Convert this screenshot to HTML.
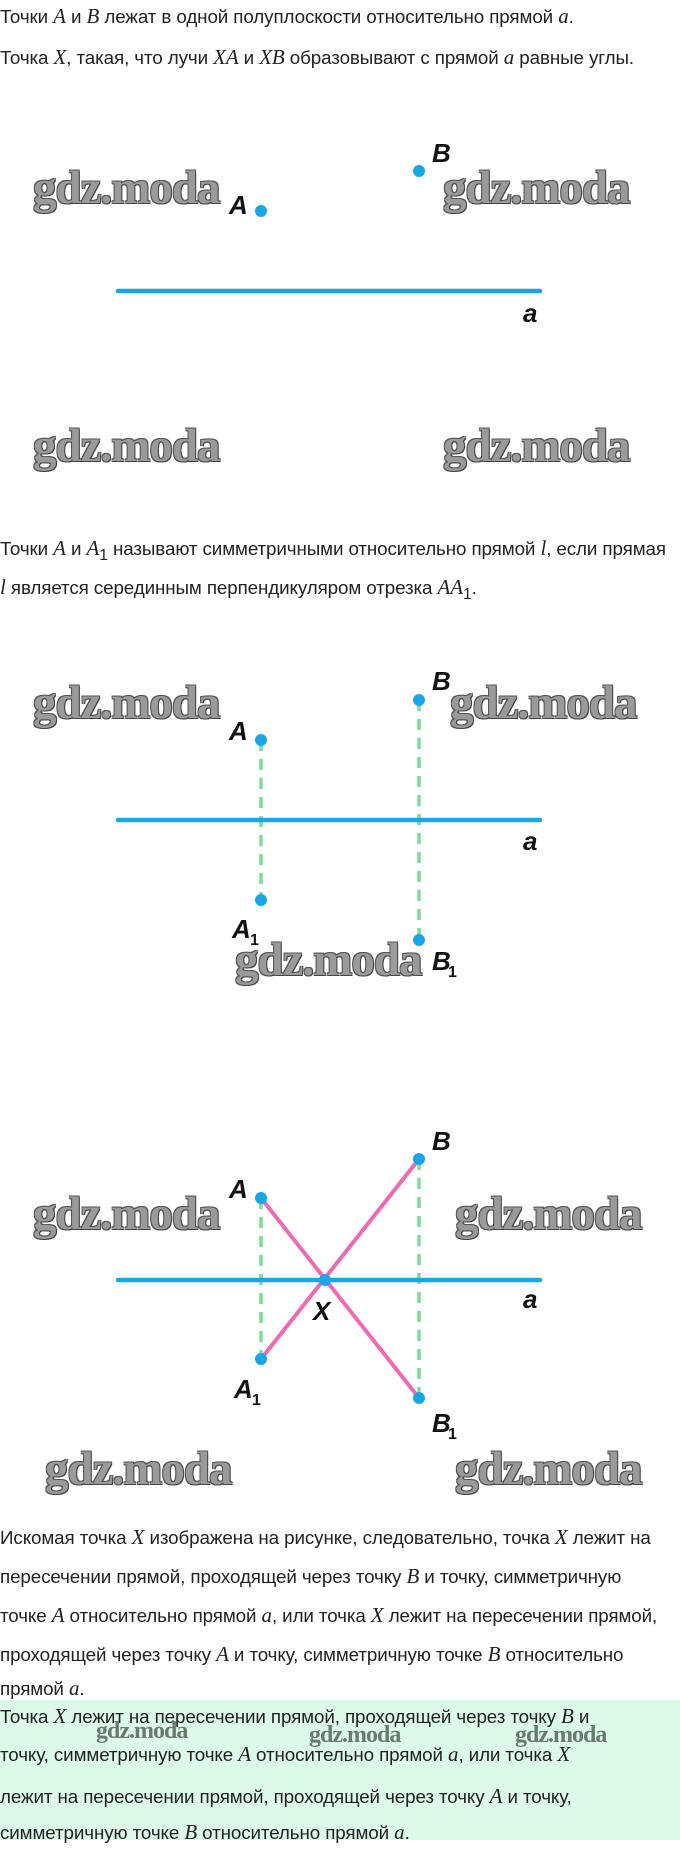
<!DOCTYPE html>
<html><head><meta charset="utf-8"><style>
body{margin:0;width:680px;height:1872px;position:relative;background:#fff;overflow:hidden;font-family:"Liberation Sans",sans-serif;color:#222}
.t{position:absolute;left:0;font-size:18.8px;white-space:nowrap;line-height:20px;letter-spacing:-0.1px}
.m{font-family:"Liberation Serif",serif;font-style:italic;font-size:21px}
.wm{position:absolute;font-family:"Liberation Serif",serif;font-weight:bold;font-size:47px;color:#9a9a9a;letter-spacing:-1px;text-shadow:1px 1px 0 #444,-1px -1px 0 #555,1px -1px 0 #555,-1px 1px 0 #555;line-height:44px}
.ws{position:absolute;font-family:"Liberation Serif",serif;font-weight:bold;font-size:24px;color:#6a7a70;letter-spacing:-1px;line-height:22px}
.green{position:absolute;left:0;top:1700px;width:680px;height:140px;background:#dcfae8}
</style></head><body>
<div class="t" style="top:6px">Точки <span class="m">A</span> и <span class="m">B</span> лежат в одной полуплоскости относительно прямой <span class="m">a</span>.</div>
<div class="t" style="top:47px">Точка <span class="m">X</span>, такая, что лучи <span class="m">XA</span> и <span class="m">XB</span> образовывают с прямой <span class="m">a</span> равные углы.</div>

<div class="t" style="top:538px">Точки <span class="m">A</span> и <span class="m">A</span><sub>1</sub> называют симметричными относительно прямой <span class="m">l</span>, если прямая</div>
<div class="t" style="top:577px"><span class="m">l</span> является серединным перпендикуляром отрезка <span class="m">AA</span><sub>1</sub>.</div>

<div class="wm" style="left:33px;top:166px">gdz.moda</div>
<div class="wm" style="left:443px;top:166px">gdz.moda</div>
<div class="wm" style="left:33px;top:424px">gdz.moda</div>
<div class="wm" style="left:443px;top:424px">gdz.moda</div>
<div class="wm" style="left:33px;top:681px">gdz.moda</div>
<div class="wm" style="left:450px;top:681px">gdz.moda</div>
<div class="wm" style="left:235px;top:938px">gdz.moda</div>
<div class="wm" style="left:33px;top:1192px">gdz.moda</div>
<div class="wm" style="left:455px;top:1192px">gdz.moda</div>
<div class="wm" style="left:45px;top:1447px">gdz.moda</div>
<div class="wm" style="left:455px;top:1447px">gdz.moda</div>

<svg style="position:absolute;left:0;top:0" width="680" height="1872">
<g font-family="Liberation Sans,sans-serif" font-style="italic" font-weight="bold" font-size="26" fill="#111">
<line x1="118" y1="291" x2="540" y2="291" stroke="#19a6e6" stroke-width="4.5" stroke-linecap="round"/>
<circle cx="261" cy="211" r="6" fill="#19a6e6"/>
<circle cx="419" cy="171" r="6" fill="#19a6e6"/>
<text x="229" y="214">A</text><text x="432" y="162">B</text><text x="523" y="322">a</text>
<line x1="261" y1="740" x2="261" y2="900" stroke="#7ddc9a" stroke-width="3.5" stroke-dasharray="11,8"/>
<line x1="419" y1="700" x2="419" y2="940" stroke="#7ddc9a" stroke-width="3.5" stroke-dasharray="11,8"/>
<line x1="118" y1="820" x2="540" y2="820" stroke="#19a6e6" stroke-width="4.5" stroke-linecap="round"/>
<circle cx="261" cy="740" r="6" fill="#19a6e6"/><circle cx="261" cy="900" r="6" fill="#19a6e6"/>
<circle cx="419" cy="700" r="6" fill="#19a6e6"/><circle cx="419" cy="940" r="6" fill="#19a6e6"/>
<text x="229" y="740">A</text><text x="432" y="690">B</text>
<text x="232" y="938">A</text><text x="250" y="945" font-size="16" font-style="normal">1</text>
<text x="432" y="970">B</text><text x="448" y="977" font-size="16" font-style="normal">1</text>
<text x="523" y="850">a</text>
<line x1="261" y1="1198" x2="261" y2="1359" stroke="#7ddc9a" stroke-width="3.5" stroke-dasharray="11,8"/>
<line x1="419" y1="1159" x2="419" y2="1398" stroke="#7ddc9a" stroke-width="3.5" stroke-dasharray="11,8"/>
<line x1="118" y1="1280" x2="540" y2="1280" stroke="#19a6e6" stroke-width="4.5" stroke-linecap="round"/>
<line x1="261" y1="1198" x2="419" y2="1398" stroke="#ef6bb0" stroke-width="4"/>
<line x1="261" y1="1359" x2="419" y2="1159" stroke="#ef6bb0" stroke-width="4"/>
<circle cx="261" cy="1198" r="6" fill="#19a6e6"/><circle cx="261" cy="1359" r="6" fill="#19a6e6"/>
<circle cx="419" cy="1159" r="6" fill="#19a6e6"/><circle cx="419" cy="1398" r="6" fill="#19a6e6"/>
<circle cx="325" cy="1280" r="6" fill="#19a6e6"/>
<text x="229" y="1198">A</text><text x="432" y="1150">B</text>
<text x="234" y="1398">A</text><text x="252" y="1405" font-size="16" font-style="normal">1</text>
<text x="432" y="1432">B</text><text x="448" y="1439" font-size="16" font-style="normal">1</text>
<text x="313" y="1320">X</text><text x="523" y="1308">a</text>
</g></svg>

<div class="t" style="top:1527px">Искомая точка <span class="m">X</span> изображена на рисунке, следовательно, точка <span class="m">X</span> лежит на</div>
<div class="t" style="top:1566px">пересечении прямой, проходящей через точку <span class="m">B</span> и точку, симметричную</div>
<div class="t" style="top:1605px">точке <span class="m">A</span> относительно прямой <span class="m">a</span>, или точка <span class="m">X</span> лежит на пересечении прямой,</div>
<div class="t" style="top:1644px">проходящей через точку <span class="m">A</span> и точку, симметричную точке <span class="m">B</span> относительно</div>
<div class="t" style="top:1678px">прямой <span class="m">a</span>.</div>

<div class="green"></div>
<div class="t" style="top:1706px">Точка <span class="m">X</span> лежит на пересечении прямой, проходящей через точку <span class="m">B</span> и</div>
<div class="t" style="top:1744px">точку, симметричную точке <span class="m">A</span> относительно прямой <span class="m">a</span>, или точка <span class="m">X</span></div>
<div class="t" style="top:1786px">лежит на пересечении прямой, проходящей через точку <span class="m">A</span> и точку,</div>
<div class="t" style="top:1822px">симметричную точке <span class="m">B</span> относительно прямой <span class="m">a</span>.</div>
<div class="ws" style="left:96px;top:1720px">gdz.moda</div>
<div class="ws" style="left:309px;top:1724px">gdz.moda</div>
<div class="ws" style="left:515px;top:1724px">gdz.moda</div>
</body></html>
